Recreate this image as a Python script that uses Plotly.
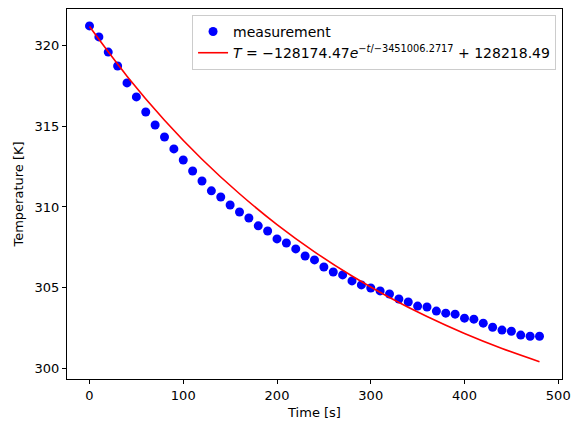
import plotly.graph_objects as go

time_s = list(range(0, 490, 10))
temp_k = [321.22, 320.54, 319.60, 318.74, 317.69, 316.82, 315.89, 315.08, 314.34, 313.60,
          312.91, 312.23, 311.61, 311.00, 310.62, 310.12, 309.69, 309.32, 308.83, 308.51,
          308.02, 307.77, 307.40, 306.96, 306.72, 306.28, 305.97, 305.79, 305.42, 305.17,
          304.98, 304.80, 304.61, 304.30, 304.11, 303.86, 303.80, 303.55, 303.42, 303.36,
          303.11, 303.05, 302.80, 302.55, 302.37, 302.30, 302.06, 301.99, 301.99]

# fitted curve, sampled every 40 s from the picture
fit_t = [0, 40, 80, 120, 160, 200, 240, 280, 320, 360, 400, 440, 480]
fit_T = [321.18, 318.11, 315.38, 312.96, 310.82, 308.91, 307.22, 305.72, 304.39,
         303.21, 302.16, 301.23, 300.41]

fit_label = ("<i>T</i> = \u2212128174.47<i>e</i><sup>\u2212<i>t</i>/\u22123451006.2717</sup>"
             " + 128218.49")

fig = go.Figure()
fig.add_trace(go.Scatter(x=time_s, y=temp_k, mode="markers", name="measurement",
                         marker=dict(color="blue", size=9)))
fig.add_trace(go.Scatter(x=fit_t, y=fit_T, mode="lines", name=fit_label,
                         line=dict(color="red", width=1.6, shape="spline")))

axis_style = dict(showline=True, linecolor="black", linewidth=1, mirror=True,
                  ticks="outside", ticklen=4, tickcolor="black", showgrid=False,
                  zeroline=False, automargin=False, title_font=dict(size=13))
fig.update_xaxes(title_text="Time [s]", range=[-24, 504], tickvals=[0, 100, 200, 300, 400, 500],
                 title_standoff=6, **axis_style)
fig.update_yaxes(title_text="Temperature [K]", range=[299.34, 322.27],
                 tickvals=[300, 305, 310, 315, 320], title_standoff=8, **axis_style)
fig.update_layout(
    width=581, height=432,
    margin=dict(l=67, r=19, t=9, b=53, autoexpand=False),
    paper_bgcolor="white", plot_bgcolor="white",
    font=dict(family="DejaVu Sans", size=13, color="black"),
    showlegend=True,
    legend=dict(x=0.988, y=0.984, xanchor="right", yanchor="top",
                bgcolor="white", bordercolor="#cccccc", borderwidth=1,
                font=dict(size=14)),
)
# drop the page's default body margin so the figure sits at the window corner
fig.write_html("out.html", config={"displayModeBar": False},
               post_script="document.body.style.margin = '0px';")
